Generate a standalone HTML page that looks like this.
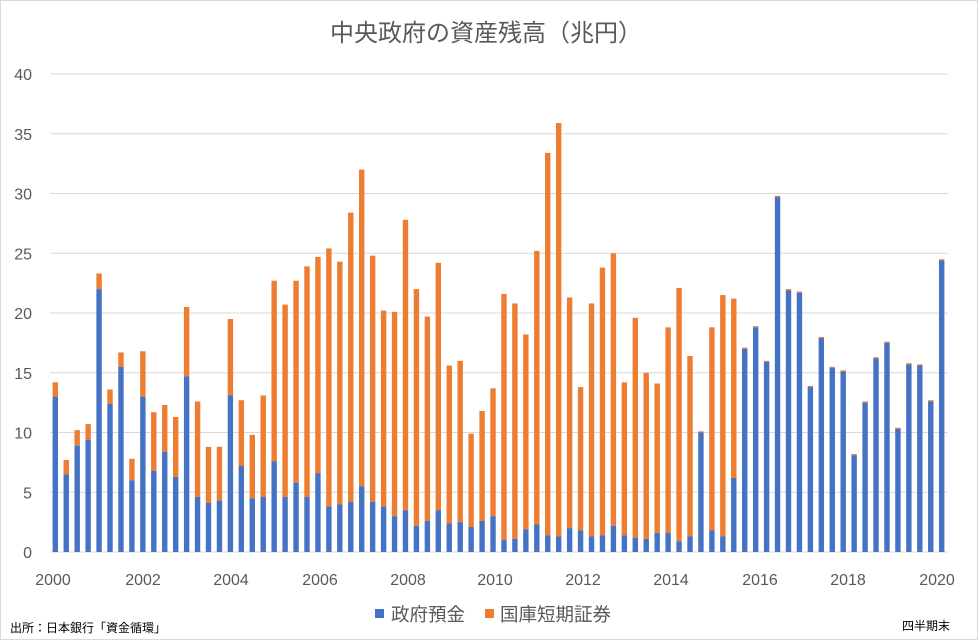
<!DOCTYPE html>
<html><head><meta charset="utf-8"><style>
body{margin:0;background:#fff;}
svg{display:block;font-family:"Liberation Sans","Noto Sans CJK JP",sans-serif;}
</style></head><body>
<svg id="c" width="978" height="640" viewBox="0 0 978 640" xmlns="http://www.w3.org/2000/svg">
<rect x="0.5" y="0.5" width="977" height="639" fill="#fff" stroke="#d9d9d9"/>
<text x="486" y="41" text-anchor="middle" font-size="24" fill="#595959">中央政府の資産残高（兆円）</text>
<g id="grid" stroke="#d9d9d9" stroke-width="1"></g>
<g id="yl" font-size="16" fill="#595959" text-anchor="end"></g>
<g id="bars"></g>
<g id="xl" font-size="16" fill="#595959" text-anchor="middle"></g>
<rect x="375" y="609" width="9" height="9" fill="#4472c4"/>
<text x="391" y="621" font-size="18.5" fill="#595959">政府預金</text>
<rect x="485" y="609" width="9" height="9" fill="#ed7d31"/>
<text x="500" y="621" font-size="18.5" fill="#595959">国庫短期証券</text>
<text x="10" y="632" font-size="12" fill="#000">出所：日本銀行「資金循環」</text>
<text x="950" y="630" font-size="12" fill="#000" text-anchor="end">四半期末</text>
</svg>
<script>
var ns="http://www.w3.org/2000/svg";
function el(t,a,p,txt){var e=document.createElementNS(ns,t);for(var k in a)e.setAttribute(k,a[k]);if(txt!==undefined)e.textContent=txt;document.getElementById(p).appendChild(e);}
var y0=552,u=11.95;
for(var v=0;v<=40;v+=5){var y=y0-v*u;el('line',{x1:50,x2:948,y1:y.toFixed(1),y2:y.toFixed(1)},'grid');el('text',{x:32,y:(y+6).toFixed(1)},'yl',String(v));}
var d=[[14.2,13.0],[7.7,6.5],[10.2,8.9],[10.7,9.4],[23.3,22.0],[13.6,12.4],[16.7,15.5],[7.8,6.0],[16.8,13.0],[11.7,6.8],[12.3,8.4],[11.3,6.3],[20.5,14.7],[12.6,4.6],[8.8,4.1],[8.8,4.3],[19.5,13.1],[12.7,7.2],[9.8,4.5],[13.1,4.6],[22.7,7.6],[20.7,4.6],[22.7,5.8],[23.9,4.6],[24.7,6.6],[25.4,3.8],[24.3,4.0],[28.4,4.2],[32.0,5.5],[24.8,4.2],[20.2,3.8],[20.1,3.0],[27.8,3.5],[22.0,2.2],[19.7,2.6],[24.2,3.5],[15.6,2.4],[16.0,2.5],[9.9,2.1],[11.8,2.6],[13.7,3.0],[21.6,1.0],[20.8,1.1],[18.2,1.9],[25.2,2.3],[33.4,1.4],[35.9,1.3],[21.3,2.0],[13.8,1.8],[20.8,1.3],[23.8,1.4],[25.0,2.2],[14.2,1.4],[19.6,1.2],[15.0,1.1],[14.1,1.6],[18.8,1.6],[22.1,0.9],[16.4,1.3],[10.1,10.0],[18.8,1.8],[21.5,1.3],[21.2,6.2],[17.1,17.0],[18.9,18.8],[16.0,15.9],[29.8,29.7],[22.0,21.9],[21.8,21.7],[13.9,13.8],[18.0,17.9],[15.5,15.4],[15.2,15.1],[8.2,8.1],[12.6,12.5],[16.3,16.2],[17.6,17.5],[10.4,10.3],[15.8,15.7],[15.7,15.6],[12.7,12.6],[24.5,24.4]];
var sp=(941.7-55.3)/81;
d.forEach(function(b,i){var cx=55.3+i*sp,x=cx-2.7,w=5.4;
var hb=b[1]*u,ht=b[0]*u;
el('rect',{x:x.toFixed(2),y:(y0-ht).toFixed(2),width:w,height:(ht-hb).toFixed(2),fill:'#ed7d31'},'bars');
el('rect',{x:x.toFixed(2),y:(y0-hb).toFixed(2),width:w,height:hb.toFixed(2),fill:'#4472c4'},'bars');});
var xs=[53,143,231,320,408,495,583,671,760,848,937];
xs.forEach(function(x,i){el('text',{x:x,y:585},'xl',String(2000+2*i));});
</script>
</body></html>
